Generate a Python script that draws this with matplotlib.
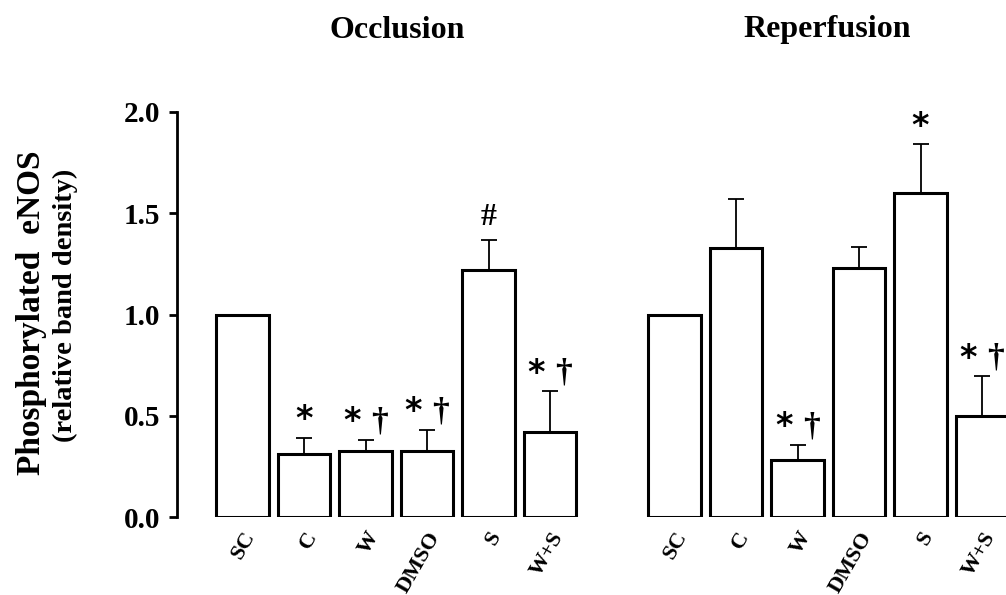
import matplotlib
matplotlib.use("Agg")
import matplotlib.pyplot as plt
import numpy as np

plt.rcParams["font.family"] = "Liberation Serif"
plt.rcParams["font.weight"] = "bold"

groups = ["SC", "C", "W", "DMSO", "S", "W+S"]

# occlusion
occ_mean = [1.00, 0.31, 0.325, 0.325, 1.22, 0.42]
occ_err = [0.0, 0.08, 0.055, 0.105, 0.15, 0.20]
occ_star = ["", "*", "*", "*", "", "*"]
occ_dag = [False, False, True, True, False, True]
occ_hash = [False, False, False, False, True, False]

# reperfusion
rep_mean = [1.00, 1.33, 0.28, 1.23, 1.60, 0.50]
rep_err = [0.0, 0.24, 0.075, 0.105, 0.24, 0.195]
rep_star = ["", "", "*", "", "*", "*"]
rep_dag = [False, False, True, False, False, True]
rep_hash = [False] * 6

fig = plt.figure(figsize=(10.06, 5.95), dpi=100)
W, H = 1006.0, 595.0
bot, top = 78 / H, (517 - 112) / H

ax1 = fig.add_axes([177 / W, bot, (590 - 177) / W, top])
ax2 = fig.add_axes([640 / W, bot, (1050 - 640) / W, top])

x = np.arange(len(groups))
px = 61.5  # pixels per bar slot


def draw(ax, mean, err, stars, dags, hashes, left_px, first_px, width_px):
    ax.bar(x, mean, width=0.85, color="white", edgecolor="black", linewidth=2.2, zorder=2)
    for xi, m, e in zip(x, mean, err):
        if e > 0:
            ax.errorbar(xi, m + e / 2, yerr=e / 2, color="black", capsize=6,
                        elinewidth=1.3, capthick=1.3, zorder=1)
    for xi, m, e, s, d, hs in zip(x, mean, err, stars, dags, hashes):
        y = m + e + 0.09
        if s:
            sx = xi - 0.22 if d else xi
            ax.text(sx, y, s, ha="center", va="center", fontsize=24,
                    fontweight="bold", family="DejaVu Sans")
        if d:
            ax.text(xi + 0.22, y, "\u2020", ha="center", va="center", fontsize=24,
                    fontweight="bold")
        if hs:
            ax.text(xi, y + 0.02, "#", ha="center", va="center", fontsize=23,
                    fontweight="bold")
    lo = -(first_px - left_px) / px
    ax.set_xlim(lo, lo + width_px / px)
    ax.set_ylim(0, 2.0)
    for sp in ["top", "right", "bottom"]:
        ax.spines[sp].set_visible(False)
    ax.set_xticks(x)
    ax.set_xticklabels(groups, rotation=60, ha="right", rotation_mode="anchor",
                       fontsize=16, fontweight="bold")
    ax.tick_params(axis="x", length=0, pad=8)


draw(ax1, occ_mean, occ_err, occ_star, occ_dag, occ_hash, 177, 242.5, 590 - 177)
draw(ax2, rep_mean, rep_err, rep_star, rep_dag, rep_hash, 640, 674.5, 1050 - 640)

ax1.spines["left"].set_linewidth(2)
ax1.set_yticks([0.0, 0.5, 1.0, 1.5, 2.0])
ax1.set_yticklabels(["0.0", "0.5", "1.0", "1.5", "2.0"], fontsize=21, fontweight="bold")
ax1.tick_params(axis="y", width=2, length=6, pad=6)

ax2.spines["left"].set_visible(False)
ax2.set_yticks([])

fig.text(32 / W, 1 - 313 / H, "Phosphorylated  eNOS", rotation=90, ha="center",
         va="center", fontsize=24, fontweight="bold")
fig.text(65 / W, 1 - 305 / H, "(relative band density)", rotation=90, ha="center",
         va="center", fontsize=20.5, fontweight="bold")

fig.text(397 / W, 1 - 30 / H, "Occlusion", ha="center", va="center", fontsize=23,
         fontweight="bold")
fig.text(827 / W, 1 - 30 / H, "Reperfusion", ha="center", va="center", fontsize=23,
         fontweight="bold")

fig.savefig("out.png", dpi=100)
